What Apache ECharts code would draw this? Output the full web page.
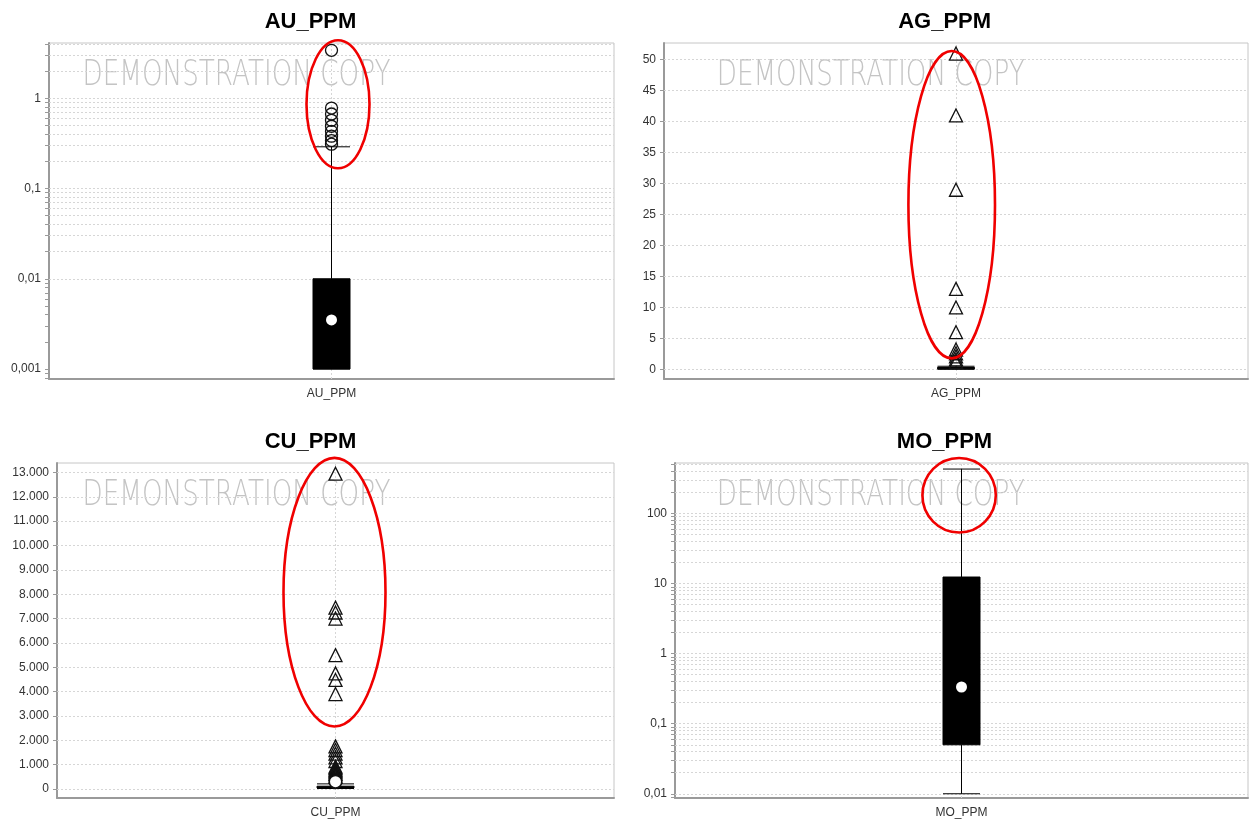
<!DOCTYPE html>
<html>
<head>
<meta charset="utf-8">
<script src="https://cdn.jsdelivr.net/npm/echarts@6.0.0/dist/echarts.min.js"></script>
<style>
  html, body { margin: 0; padding: 0; background: #ffffff; }
  #chart { width: 1249px; height: 823px; }
</style>
</head>
<body>
<div id="chart"></div>
<script>
// ---- data -------------------------------------------------------------
const categories = ['AU_PPM', 'AG_PPM', 'CU_PPM', 'MO_PPM'];

// box summaries: [lower whisker, Q1, median, Q3, upper whisker]
const auBox = [0.001, 0.001, 0.0025, 0.01, 0.29];
const agBox = [0, 0.1, 0.2, 0.3, 0.5];
const cuBox = [20, 45, 75, 115, 210];
const moBox = [0.01, 0.05, 0.25, 12.4, 431];

// means (white dot)
const auMean = [0.0035];
const agMean = [];
const cuMean = [300];
const moMean = [0.334];

// outliers
const auOutliers = [3.4, 0.78, 0.67, 0.57, 0.49, 0.43, 0.38, 0.34, 0.31];
const agOutliers = [51, 41, 29, 13, 10, 6, 3.2, 2.6, 2.1, 1.6, 1.2];
const cuOutliers = [12950, 7450, 7250, 7000, 5500, 4750, 4480, 3900,
                    1750, 1600, 1450, 1300, 1150, 920, 860, 800, 740, 680, 620, 560, 500];
const cuOutliersNear = [450, 400, 350, 300, 260];
const moOutliers = [];

// tick labels
const auTicks = [0.001, 0.01, 0.1, 1];
const agTicks = [0, 5, 10, 15, 20, 25, 30, 35, 40, 45, 50];
const cuTicks = [0, 1000, 2000, 3000, 4000, 5000, 6000, 7000, 8000, 9000, 10000, 11000, 12000, 13000];
const moTicks = [0.01, 0.1, 1, 10, 100];

// axis ranges
const auRange = [0.000775, 4.1];
const agRange = [-1.56, 52.7];
const cuRange = [-370, 13390];
const moRange = [0.0087, 526];

// value spans enclosed by the red highlight ellipses
const auCircled = [0.168, 4.39];
const agCircled = [1.77, 51.4];
const cuCircled = [2567, 13600];
const moCircled = [53.6, 619];

// ---- helpers ----------------------------------------------------------
function logGrid(range) {
  const out = [];
  const e0 = Math.floor(Math.log10(range[0]));
  const e1 = Math.ceil(Math.log10(range[1]));
  for (let e = e0; e <= e1; e++) {
    for (let k = 1; k <= 9; k++) {
      const v = Number((k * Math.pow(10, e)).toPrecision(12));
      if (v >= range[0] && v <= range[1]) out.push(v);
    }
  }
  return out;
}
const fmtDecimalComma = v => String(Number(Number(v).toPrecision(6))).replace('.', ',');
const fmtThousandsDot = v => String(Math.round(v)).replace(/\B(?=(\d{3})+(?!\d))/g, '.');
const fmtPlain = v => String(Number(Number(v).toPrecision(6)));

const FONT = '"Liberation Sans", Arial, sans-serif';
const AXIS_GRAY = '#9a9a9a';
const GRID_GRAY = '#d6d6d6';

const panels = [
  { name: categories[0], box: auBox, mean: auMean, out: auOutliers, outSym: 'circle', near: [],
    log: true, range: auRange, ticks: auTicks, fmt: fmtDecimalComma, circled: auCircled,
    grid: { left: 49, top: 43, width: 565, height: 336 },
    titleX: 310.5, titleY: 10.5, markX: 82.5, markY: 76, ell: { dx: 6.5, rx: 31.5 } },
  { name: categories[1], box: agBox, mean: agMean, out: agOutliers, outSym: 'triangle', near: [],
    log: false, range: agRange, ticks: agTicks, fmt: fmtPlain, circled: agCircled,
    grid: { left: 664, top: 43, width: 584, height: 336 },
    titleX: 944.6, titleY: 10.5, markX: 716.7, markY: 76, ell: { dx: -4.3, rx: 43.3 } },
  { name: categories[2], box: cuBox, mean: cuMean, out: cuOutliers, outSym: 'triangle', near: cuOutliersNear,
    log: false, range: cuRange, ticks: cuTicks, fmt: fmtThousandsDot, circled: cuCircled,
    grid: { left: 57, top: 463, width: 557, height: 335 },
    titleX: 310.5, titleY: 430.5, markX: 82.5, markY: 496, ell: { dx: -1, rx: 51 } },
  { name: categories[3], box: moBox, mean: moMean, out: moOutliers, outSym: 'circle', near: [],
    log: true, range: moRange, ticks: moTicks, fmt: fmtDecimalComma, circled: moCircled,
    grid: { left: 675, top: 463, width: 573, height: 335 },
    titleX: 944.5, titleY: 430.5, markX: 716.7, markY: 496, ell: { dx: -2.4, rx: 36.7 } }
];

// ---- option -----------------------------------------------------------
const option = {
  animation: false,
  backgroundColor: '#ffffff',
  title: [], grid: [], xAxis: [], yAxis: [], series: []
};

const outlierStyle = { color: 'rgba(255,255,255,0)', borderColor: '#111111', borderWidth: 1.3, opacity: 1 };

panels.forEach((p, i) => {
  const gridValues = p.log ? logGrid(p.range) : p.ticks;

  option.title.push({
    text: p.name, left: p.titleX, top: p.titleY, textAlign: 'center', padding: 0,
    textStyle: { fontFamily: FONT, fontSize: 22, fontWeight: 'bold', color: '#000', lineHeight: 22 }
  });

  option.grid.push(Object.assign({
    show: true, borderColor: '#c6c6c6', borderWidth: 1, containLabel: false
  }, p.grid));

  option.xAxis.push({
    type: 'category', gridIndex: i, data: [p.name], boundaryGap: true,
    axisLine: { onZero: false, lineStyle: { color: AXIS_GRAY, width: 2 } },
    axisTick: { show: false },
    axisLabel: { color: '#333', fontSize: 12, fontFamily: FONT, margin: 9 },
    splitLine: { show: false }
  });

  option.yAxis.push({
    type: p.log ? 'log' : 'value', logBase: 10, gridIndex: i,
    min: p.range[0], max: p.range[1],
    axisLine: { show: true, lineStyle: { color: AXIS_GRAY, width: 2 } },
    axisTick: { show: true, length: 4, customValues: gridValues, lineStyle: { color: AXIS_GRAY } },
    axisLabel: { customValues: p.ticks, formatter: p.fmt, color: '#333', fontSize: 12, fontFamily: FONT, margin: 8 },
    splitLine: { show: false },
    minorTick: { show: false }, minorSplitLine: { show: false }
  });

  option.series.push({
    type: 'boxplot', xAxisIndex: i, yAxisIndex: i, silent: true, z: 2,
    boxWidth: [37, 37],
    data: [p.box],
    itemStyle: { color: '#000', borderColor: '#000', borderWidth: 1 },
    markLine: {
      z: 1, silent: true, animation: false, symbol: ['none', 'none'],
      label: { show: false },
      lineStyle: { color: GRID_GRAY, type: [2, 2], width: 1 },
      emphasis: { disabled: true },
      data: gridValues.map(v => ({ yAxis: v })).concat([{ xAxis: p.name }])
    }
  });

  if (p.out.length) {
    option.series.push({
      type: 'scatter', xAxisIndex: i, yAxisIndex: i, silent: true, z: 3,
      symbol: p.outSym, symbolSize: p.outSym === 'circle' ? 12 : [13, 13],
      data: p.out.map(v => [0, v]),
      itemStyle: outlierStyle
    });
  }
  if (p.near.length) {
    option.series.push({
      type: 'scatter', xAxisIndex: i, yAxisIndex: i, silent: true, z: 3,
      symbol: 'circle', symbolSize: 12,
      data: p.near.map(v => [0, v]),
      itemStyle: outlierStyle
    });
  }
  if (p.mean.length) {
    option.series.push({
      type: 'scatter', xAxisIndex: i, yAxisIndex: i, silent: true, z: 4,
      symbol: 'circle', symbolSize: 11,
      data: p.mean.map(v => [0, v]),
      itemStyle: { color: '#ffffff', borderWidth: 0, opacity: 1 }
    });
  }
});

const chart = echarts.init(document.getElementById('chart'), null, { renderer: 'canvas' });
chart.setOption(option);

// ---- watermark and highlight ellipses --------------------------------
const WM_TEXT = 'DEMONSTRATION COPY';
const WM_FONT = '200 36px "DejaVu Sans", "Liberation Sans", sans-serif';
const ctx = document.createElement('canvas').getContext('2d');
ctx.font = WM_FONT;
const wmScale = 308 / ctx.measureText(WM_TEXT).width;

const elements = [];
panels.forEach((p, i) => {
  elements.push({
    type: 'text', id: 'wm' + i, x: p.markX, y: p.markY, scaleX: wmScale, z: 0, silent: true,
    style: { text: WM_TEXT, font: WM_FONT, fill: '#c4c4c4', textVerticalAlign: 'middle', verticalAlign: 'middle' }
  });
  const top = chart.convertToPixel({ gridIndex: i }, [0, p.circled[1]]);
  const bot = chart.convertToPixel({ gridIndex: i }, [0, p.circled[0]]);
  elements.push({
    type: 'ellipse', id: 'ring' + i, z: 100, silent: true,
    shape: { cx: top[0] + p.ell.dx, cy: (top[1] + bot[1]) / 2, rx: p.ell.rx, ry: Math.abs(bot[1] - top[1]) / 2 },
    style: { fill: 'none', stroke: '#f00000', lineWidth: 2.6 }
  });
});
chart.setOption({ graphic: [{ elements: elements }] });
</script>
</body>
</html>
